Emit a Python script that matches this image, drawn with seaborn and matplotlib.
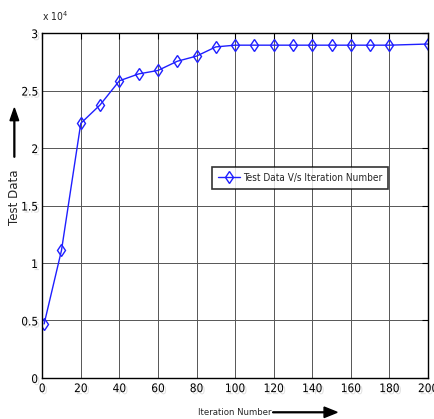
import pandas as pd
import matplotlib.pyplot as plt
import matplotlib.patches as mpatches
import matplotlib.patheffects as pe
import seaborn as sns

# Values
iterations = [1, 10, 20, 30, 40, 50, 60, 70, 80, 90, 100, 110, 120, 130, 140, 150, 160, 170, 180, 200]
test_data = [4700, 11100, 22150, 23750, 25850, 26450, 26750, 27550, 28000, 28800,
             28950, 28950, 28950, 28950, 28950, 28950, 28950, 28950, 28950, 29050]
x_ticks = list(range(0, 201, 20))
y_ticks = [0, 5000, 10000, 15000, 20000, 25000, 30000]
y_tick_labels = ['0', '0.5', '1', '1.5', '2', '2.5', '3']

df = pd.DataFrame({'Iteration Number': iterations, 'Test Data': test_data})

sns.set_style('white')
plt.rcParams['font.family'] = ['DejaVu Sans']
plt.rcParams['font.stretch'] = 'condensed'

shadow = [pe.withSimplePatchShadow(offset=(1.5, -1.5), shadow_rgbFace='0.7', alpha=0.4)]

fig = plt.figure(figsize=(4.35, 4.19), dpi=100)
ax = fig.add_axes([0.097, 0.098, 0.887, 0.823])

sns.lineplot(data=df, x='Iteration Number', y='Test Data', ax=ax, color='#1f1fff',
             linewidth=1.0, marker='d', markersize=6.5, markerfacecolor='none',
             markeredgecolor='#1f1fff', markeredgewidth=1.0,
             label='Test Data V/s Iteration Number')

ax.set_xlim(0, 200)
ax.set_ylim(0, 30000)
ax.set_xticks(x_ticks)
ax.set_yticks(y_ticks)
ax.set_yticklabels(y_tick_labels)
ax.grid(True, color='#555555', linewidth=0.7)
ax.tick_params(direction='in', length=4, top=True, right=True, labelsize=8.5, pad=3,
               colors='black')
for side in ax.spines.values():
    side.set_color('black')
    side.set_linewidth(1.0)
ax.set_xlabel('')
ax.set_ylabel('')

# MATLAB-style exponent label
fig.text(0.097, 0.945, r'x 10$^4$', fontsize=7.5, ha='left', va='bottom')

# axis labels with arrows
fig.text(0.034, 0.53, 'Test Data', rotation=90, fontsize=8.5,
         ha='center', va='center', fontstretch='normal')
fig.text(0.54, 0.016, 'Iteration Number', fontsize=6.8, ha='center', va='center')
fig.patches.append(mpatches.FancyArrow(
    0.033, 0.625, 0, 0.117, width=0.002, head_width=0.02, head_length=0.03,
    transform=fig.transFigure, color='black', length_includes_head=True))
fig.patches.append(mpatches.FancyArrow(
    0.627, 0.016, 0.148, 0, width=0.002, head_width=0.025, head_length=0.03,
    transform=fig.transFigure, color='black', length_includes_head=True))

leg = ax.legend(loc='upper left', bbox_to_anchor=(0.44, 0.612), fontsize=7.2,
                frameon=True, fancybox=False, edgecolor='black', handlelength=2.2,
                handletextpad=0.3, borderpad=0.6, borderaxespad=0)
leg.get_frame().set_linewidth(1.2)

for t in ax.get_xticklabels() + ax.get_yticklabels():
    t.set_path_effects(shadow)

plt.savefig('out.png', dpi=100)
